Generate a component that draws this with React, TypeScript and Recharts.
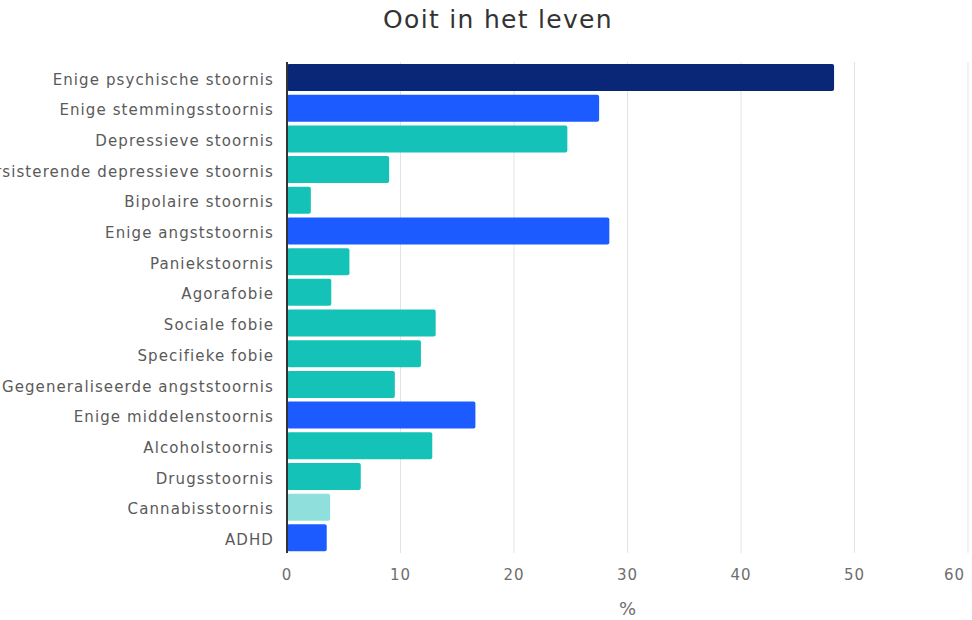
import { Bar, BarChart, CartesianGrid, Cell, XAxis, YAxis } from "recharts";

const categories = [
  "Enige psychische stoornis",
  "Enige stemmingsstoornis",
  "Depressieve stoornis",
  "Persisterende depressieve stoornis",
  "Bipolaire stoornis",
  "Enige angststoornis",
  "Paniekstoornis",
  "Agorafobie",
  "Sociale fobie",
  "Specifieke fobie",
  "Gegeneraliseerde angststoornis",
  "Enige middelenstoornis",
  "Alcoholstoornis",
  "Drugsstoornis",
  "Cannabisstoornis",
  "ADHD",
];

const values = [48.2, 27.5, 24.7, 9.0, 2.1, 28.4, 5.5, 3.9, 13.1, 11.8, 9.5, 16.6, 12.8, 6.5, 3.8, 3.5];

// kind of row: 0 = total, 1 = group, 2 = sub, 3 = highlighted sub
const kinds = [0, 1, 2, 2, 2, 1, 2, 2, 2, 2, 2, 1, 2, 2, 3, 1];

const xTicks = [0, 10, 20, 30, 40, 50, 60];

const palette = ["#0a2677", "#1b5bff", "#14c2b8", "#8fe0dc"];

const data = categories.map((name, i) => ({ name, value: values[i], kind: kinds[i] }));

const font = "'DejaVu Sans', Verdana, sans-serif";

function XTick(props: any) {
  const { x, y, payload } = props;
  const last = payload.value === xTicks[xTicks.length - 1];
  return (
    <text
      x={last ? x + 1 : x}
      y={y}
      dy={5}
      textAnchor={last ? "end" : "middle"}
      fill="#6e6e6e"
      fontSize={15}
      fontFamily={font}
      letterSpacing={1}
    >
      {payload.value}
    </text>
  );
}

export default function App() {
  return (
    <div style={{ position: "absolute", left: 0, top: 0, width: 972, height: 620, background: "#fff", fontFamily: font }}>
      <div
        style={{
          position: "absolute",
          top: 5,
          left: 0,
          width: 996,
          textAlign: "center",
          fontSize: 25,
          letterSpacing: 1.3,
          color: "#333",
        }}
      >
        Ooit in het leven
      </div>
      <BarChart
        width={972}
        height={620}
        data={data}
        layout="vertical"
        margin={{ top: 62, right: 4, bottom: 0, left: 0 }}
        barCategoryGap={2}
      >
        <CartesianGrid horizontal={false} stroke="#e3e3e3" />
        <XAxis
          type="number"
          domain={[0, 60]}
          ticks={xTicks}
          height={67}
          axisLine={false}
          tickLine={false}
          tickMargin={16}
          tick={<XTick />}
          label={{ value: "%", position: "insideBottom", offset: 5, fill: "#6e6e6e", fontSize: 18, fontFamily: font }}
        />
        <YAxis
          type="category"
          dataKey="name"
          width={287}
          interval={0}
          tickLine={false}
          tickSize={0}
          tickMargin={13}
          axisLine={{ stroke: "#333", strokeWidth: 2 }}
          tick={{ fill: "#5a5a5a", fontSize: 15, fontFamily: font, letterSpacing: 1.1, dy: 2 }}
        />
        <Bar dataKey="value" isAnimationActive={false} radius={2}>
          {data.map((d) => (
            <Cell key={d.name} fill={palette[d.kind]} />
          ))}
        </Bar>
      </BarChart>
    </div>
  );
}
